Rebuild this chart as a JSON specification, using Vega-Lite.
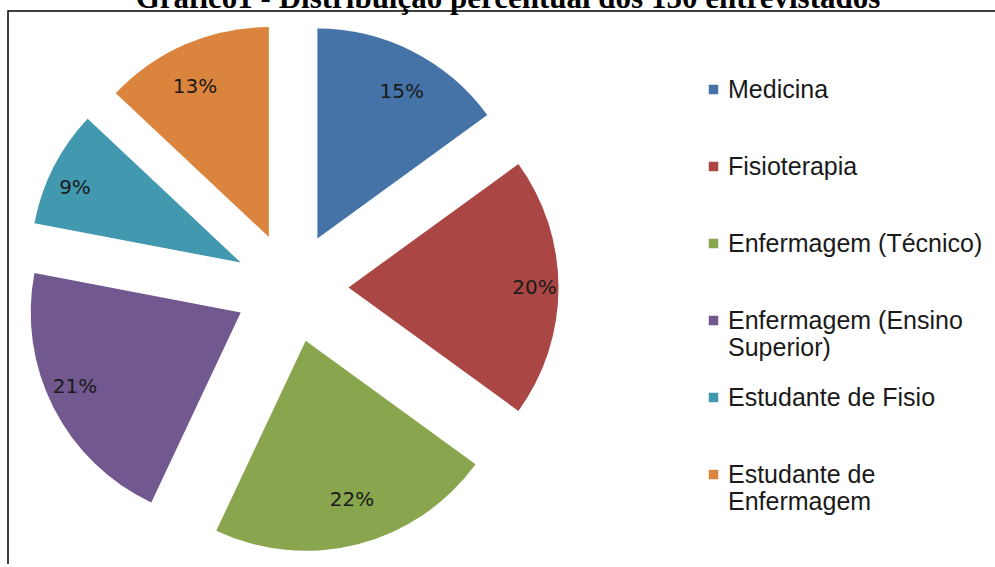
{
  "$schema": "https://vega.github.io/schema/vega-lite/v6.json",
  "width": 1000,
  "height": 553,
  "autosize": "none",
  "padding": {"left": 8, "top": 11, "right": 0, "bottom": 0},
  "background": "white",
  "config": {
    "view": {"stroke": "black", "strokeWidth": 1.5, "strokeDash": [1000, 1553, 553]}
  },
  "title": {
    "text": "Gráfico1 - Distribuição percentual dos 150 entrevistados",
    "font": "Liberation Serif",
    "fontSize": 31,
    "fontWeight": "bold",
    "color": "black",
    "anchor": "middle",
    "baseline": "alphabetic",
    "offset": 0,
    "dy": 28
  },
  "data": {
    "values": [
      {"categoria": "Medicina", "valor": 0.15},
      {"categoria": "Fisioterapia", "valor": 0.20},
      {"categoria": "Enfermagem (Técnico)", "valor": 0.22},
      {"categoria": "Enfermagem (Ensino Superior)", "valor": 0.21},
      {"categoria": "Estudante de Fisio", "valor": 0.09},
      {"categoria": "Estudante de Enfermagem", "valor": 0.13}
    ]
  },
  "transform": [{"window": [{"op": "row_number", "as": "idx"}]}],
  "encoding": {
    "theta": {"field": "valor", "type": "quantitative", "stack": true},
    "order": {"field": "idx", "type": "quantitative"},
    "x": {"datum": 0.2835, "type": "quantitative", "scale": {"domain": [0, 1]}, "axis": null}
  },
  "layer": [
    {
      "mark": {
        "type": "arc",
        "outerRadius": 210,
        "xOffset": {"expr": "57*sin(PI*(datum.valor_start+datum.valor_end))"},
        "yOffset": {"expr": "-55*cos(PI*(datum.valor_start+datum.valor_end))"}
      },
      "encoding": {
        "color": {
          "field": "categoria",
          "type": "nominal",
          "scale": {
            "domain": ["Medicina", "Fisioterapia", "Enfermagem (Técnico)", "Enfermagem (Ensino Superior)", "Estudante de Fisio", "Estudante de Enfermagem"],
            "range": ["#4572A7", "#AA4643", "#89A54E", "#71588F", "#4198AF", "#DB843D"]
          },
          "legend": {
            "orient": "none",
            "legendX": 693,
            "legendY": 66,
            "title": null,
            "padding": 0,
            "gridAlign": "all",
            "labelFont": "Liberation Sans",
            "labelFontSize": 25,
            "labelColor": "#1a1a1a",
            "labelLimit": 400,
            "labelOffset": 2,
            "symbolType": "square",
            "symbolSize": 90,
            "symbolStrokeWidth": 0,
            "rowPadding": 24,
            "labelExpr": "datum.label == 'Enfermagem (Ensino Superior)' ? ['Enfermagem (Ensino', 'Superior)'] : datum.label == 'Estudante de Enfermagem' ? ['Estudante de', 'Enfermagem'] : datum.label"
          }
        }
      }
    },
    {
      "mark": {
        "type": "text",
        "radius": 175,
        "font": "DejaVu Sans",
        "fontSize": 20,
        "color": "#1a1a1a",
        "xOffset": {"expr": "68*sin(PI*(datum.valor_start+datum.valor_end))"},
        "yOffset": {"expr": "-44*cos(PI*(datum.valor_start+datum.valor_end))"}
      },
      "encoding": {
        "text": {"field": "valor", "type": "quantitative", "format": ".0%"}
      }
    }
  ]
}
